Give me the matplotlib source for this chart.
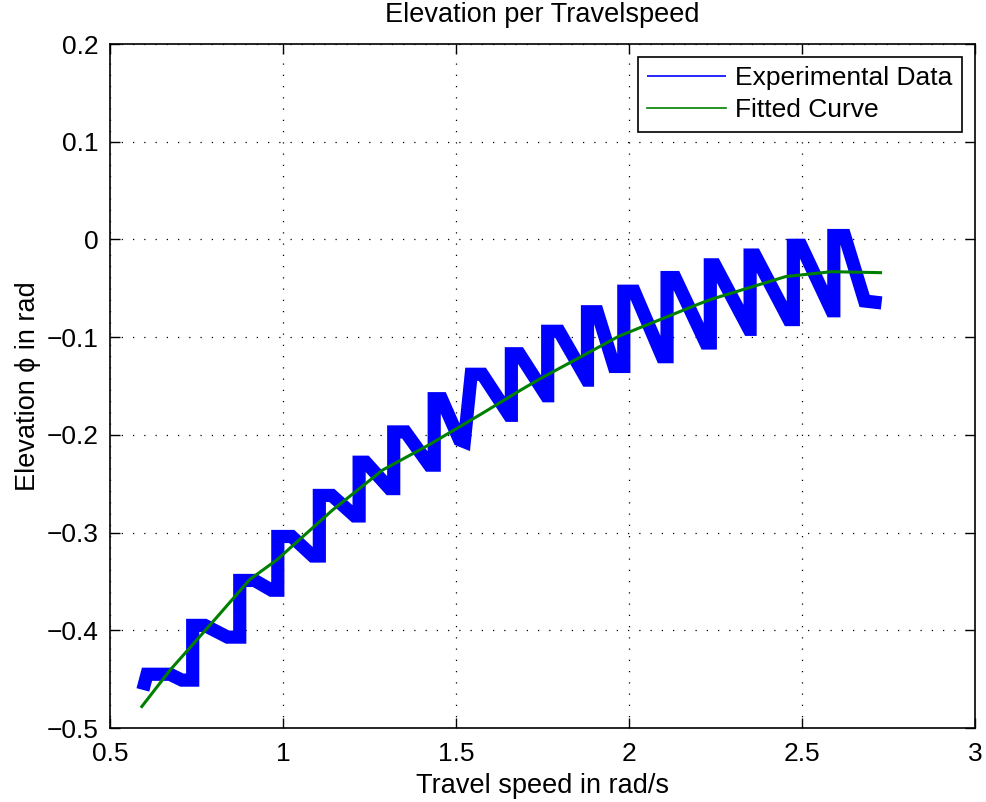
import matplotlib
matplotlib.use("Agg")
import matplotlib.pyplot as plt

plt.rcParams['font.family'] = ['Liberation Sans', 'DejaVu Sans']

exp_speed = [0.595, 0.607, 0.673, 0.708, 0.739, 0.739, 0.774, 0.840, 0.875, 0.875,
             0.918, 0.967, 0.985, 0.985, 1.025, 1.086, 1.105, 1.105, 1.141, 1.207,
             1.220, 1.220, 1.239, 1.308, 1.320, 1.320, 1.354, 1.423, 1.437, 1.437,
             1.458, 1.510, 1.524, 1.544, 1.576, 1.654, 1.660, 1.660, 1.683, 1.761,
             1.765, 1.765, 1.798, 1.879, 1.880, 1.880, 1.908, 1.957, 1.985, 1.985,
             2.015, 2.096, 2.110, 2.110, 2.133, 2.222, 2.235, 2.235, 2.248, 2.347,
             2.350, 2.350, 2.364, 2.462, 2.475, 2.475, 2.497, 2.586, 2.592, 2.592,
             2.623, 2.681, 2.730]
exp_elev = [-0.461, -0.445, -0.445, -0.451, -0.451, -0.395, -0.395, -0.407, -0.407, -0.349,
            -0.349, -0.359, -0.359, -0.304, -0.304, -0.324, -0.324, -0.262, -0.262, -0.283,
            -0.283, -0.228, -0.228, -0.255, -0.255, -0.197, -0.197, -0.231, -0.231, -0.163,
            -0.163, -0.205, -0.207, -0.138, -0.138, -0.180, -0.180, -0.117, -0.117, -0.160,
            -0.160, -0.094, -0.094, -0.144, -0.144, -0.074, -0.074, -0.130, -0.130, -0.053,
            -0.053, -0.120, -0.120, -0.039, -0.039, -0.106, -0.106, -0.026, -0.026, -0.092,
            -0.092, -0.016, -0.016, -0.082, -0.082, -0.006, -0.006, -0.073, -0.073, 0.004,
            0.004, -0.063, -0.065]

# Fitted curve
fit_speed = [0.592, 0.673, 0.803, 0.904, 0.982, 1.143, 1.288, 1.423, 1.576, 1.683,
             1.741, 1.971, 2.202, 2.240, 2.453, 2.586, 2.727]
fit_elev = [-0.478, -0.441, -0.389, -0.348, -0.328, -0.277, -0.236, -0.210, -0.178, -0.155,
            -0.143, -0.099, -0.066, -0.061, -0.038, -0.033, -0.034]

x_ticks = [0.5, 1, 1.5, 2, 2.5, 3]
x_tick_labels = ['0.5', '1', '1.5', '2', '2.5', '3']
y_ticks = [-0.5, -0.4, -0.3, -0.2, -0.1, 0, 0.1, 0.2]
y_tick_labels = ['\u22120.5', '\u22120.4', '\u22120.3', '\u22120.2', '\u22120.1', '0', '0.1', '0.2']

fig = plt.figure(figsize=(9.87, 8.02), dpi=100)
ax = fig.add_axes([110/987, 74/802, 865/987, 684/802])

ax.plot(exp_speed, exp_elev, color=(0, 0, 1), lw=9.5, solid_joinstyle='miter',
        solid_capstyle='butt', label='Experimental Data')
ax.plot(fit_speed, fit_elev, color=(0, 0.5, 0), lw=2.2, label='Fitted Curve')

ax.set_xlim(0.5, 3)
ax.set_ylim(-0.5, 0.2)
ax.set_xticks(x_ticks)
ax.set_xticklabels(x_tick_labels)
ax.set_yticks(y_ticks)
ax.set_yticklabels(y_tick_labels)
ax.grid(True, color='black', linestyle=(0, (1, 8)), linewidth=0.9)
ax.tick_params(direction='in', length=7, width=1, top=True, right=True,
               labelsize=19)
ax.tick_params(axis='x', pad=10)
ax.tick_params(axis='y', pad=8)
for s in ax.spines.values():
    s.set_linewidth(1.2)

ax.set_title('Elevation per Travelspeed', fontsize=19.5, pad=16)
ax.set_xlabel('Travel speed in rad/s', fontsize=19.5, labelpad=5)
ax.set_ylabel('Elevation \u03d5 in rad', fontsize=19.5, labelpad=4)

leg = ax.legend(loc='upper right', fontsize=19, frameon=True, fancybox=False,
                edgecolor='black', framealpha=1, borderpad=0.35, handlelength=3.0,
                handletextpad=0.35, labelspacing=0.3, borderaxespad=0.5)
leg.get_frame().set_linewidth(1.2)
for h in leg.get_lines():
    h.set_linewidth(1.2)

fig.savefig('out.png', dpi=100)
